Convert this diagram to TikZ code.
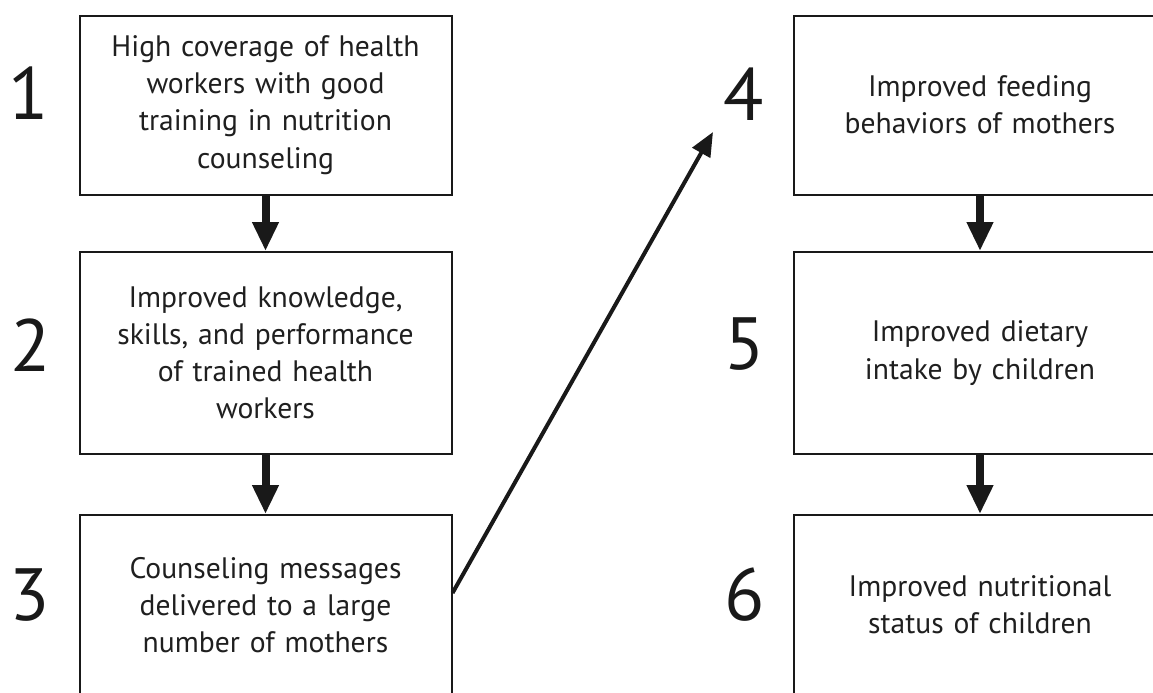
\documentclass[tikz,border=0pt]{standalone}
\usepackage{fontspec}
\setmainfont{PT Sans}
\usepackage{tikz}
\usetikzlibrary{positioning,arrows.meta}

\begin{document}
\begin{tikzpicture}[
    x=0.5pt, y=-0.5pt,
    stagebox/.style={
        draw=black!90,
        line width=1pt,
        align=center,
        text=black!88,
        font=\fontsize{14.8}{18.6}\selectfont,
        text width=180pt,
        minimum width=186pt,
        inner sep=0pt
    },
    tallbox/.style={stagebox, minimum height=101pt},
    shortbox/.style={stagebox, minimum height=89.5pt},
    stagenum/.style={
        font=\fontsize{37}{37}\selectfont,
        text=black!90,
        inner sep=0pt
    },
    arrow/.style={-{Triangle[width=12.5pt,length=14.5pt]}, line width=4pt, black!90},
    jump/.style={-{Triangle[width=10pt,length=12pt]}, line width=2pt, black!90}
]

\useasboundingbox (0,0) rectangle (1153,692);
\clip (0,0) rectangle (1153,692);

% LEFT COLUMN
\node[shortbox] (box1) at (265.5,105)
{High coverage of health\\ workers with good\\ training in nutrition\\ counseling};

\node[tallbox] (box2) at (265.5,353)
{Improved knowledge,\\ skills, and performance\\ of trained health\\ workers};

\node[shortbox, minimum height=90pt] (box3) at (265.5,605)
{Counseling messages\\ delivered to a large\\ number of mothers};

\draw[arrow] (box1) -- (box2);
\draw[arrow] (box2) -- (box3);

% RIGHT COLUMN
\node[shortbox] (box4) at (980,105)
{Improved feeding\\ behaviors of mothers};

\node[tallbox] (box5) at (980,353)
{Improved dietary\\ intake by children};

\node[shortbox, minimum height=90pt] (box6) at (980,605)
{Improved nutritional\\ status of children};

\draw[arrow] (box4) -- (box5);
\draw[arrow] (box5) -- (box6);

% STEP NUMBERS
\node[stagenum] (num1) at (29,93) {1};
\node[stagenum] (num2) at (31,345) {2};
\node[stagenum] (num3) at (30,595) {3};
\node[stagenum] (num4) at (744,94) {4};
\node[stagenum] (num5) at (745,344) {5};
\node[stagenum] (num6) at (745,595) {6};

% CROSS-OVER ARROW
\coordinate (tip4) at (713,132);
\draw[jump] ([yshift=6pt]box3.east) -- (tip4);

\end{tikzpicture}
\end{document}
